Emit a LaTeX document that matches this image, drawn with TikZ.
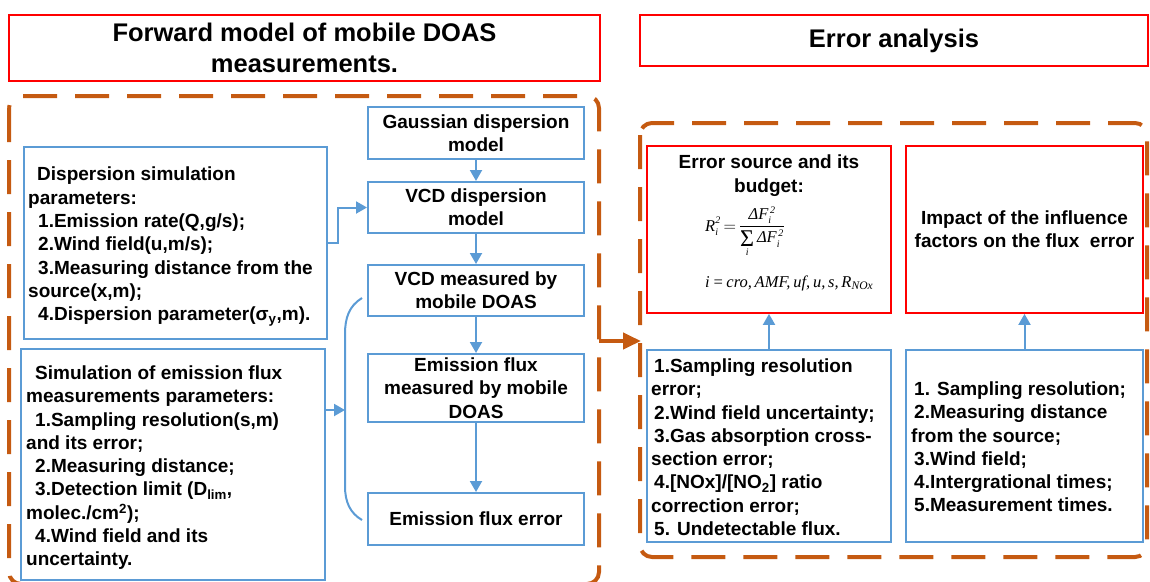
\documentclass[tikz,border=0pt]{standalone}
\usepackage[no-math]{fontspec}
\setmainfont{Liberation Sans}
\newfontfamily\tnr{Liberation Serif}
\newcommand\ital[1]{\mbox{\tnr\itshape\fontsize{16.5}{18}\selectfont #1}}
\newcommand\itsm[1]{\mbox{\tnr\itshape\fontsize{10}{10}\selectfont #1}}
\usetikzlibrary{arrows.meta}
\definecolor{myblue}{RGB}{91,155,213}
\definecolor{myorange}{RGB}{197,90,17}
\definecolor{myred}{RGB}{255,0,0}
\tikzset{
  bodyfont/.style={font=\bfseries\fontsize{19}{23.3}\selectfont},
  titlefont/.style={font=\bfseries\fontsize{25.5}{30.5}\selectfont},
  bluebox/.style={draw=myblue, line width=2pt, inner sep=0pt, align=center, bodyfont},
  redbox/.style={draw=myred, line width=1.8pt, inner sep=0pt, align=center},
  ltext/.style={anchor=north west, inner sep=0pt, align=left, bodyfont},
  orangedash/.style={draw=myorange, line width=4pt, dash pattern=on 34pt off 18pt, rounded corners=12pt},
  bluearrow/.style={draw=myblue, line width=2pt, -{Triangle[length=11pt,width=12pt]}},
  blueline/.style={draw=myblue, line width=2pt},
  orangearrow/.style={draw=myorange, line width=4pt, -{Triangle[length=18pt,width=16pt]}},
  formula/.style={anchor=base west, inner sep=0pt, font=\fontsize{16.5}{18}\selectfont}
}
\begin{document}
\begin{tikzpicture}[x=1pt,y=-1pt]
\useasboundingbox (0,0) rectangle (1150,581);
% dashed frames
\draw[orangedash] (9,96) rectangle (599,584);
\draw[orangedash] (640,123) rectangle (1147,557);
% titles
\node[redbox, titlefont, minimum width=591pt, minimum height=66pt] (title1) at (304.5,48) {Forward model of mobile DOAS\\measurements.};
\node[redbox, titlefont, minimum width=508pt, minimum height=51pt] (title2) at (894,40.5) {Error analysis};
% central chain
\node[bluebox, minimum width=216pt, minimum height=52pt] (gauss) at (476,133) {Gaussian dispersion\\model};
\node[bluebox, minimum width=216pt, minimum height=51pt] (vcdd) at (476,207.5) {VCD dispersion\\model};
\node[bluebox, minimum width=216pt, minimum height=51pt] (vcdm) at (476,290.5) {VCD measured by\\mobile DOAS};
\node[bluebox, minimum width=216pt, minimum height=68pt] (efm) at (476,388) {Emission flux\\measured by mobile\\DOAS};
\node[bluebox, minimum width=216pt, minimum height=52pt] (efe) at (476,519) {Emission flux error};
% parameter boxes
\node[bluebox, minimum width=303pt, minimum height=192pt] (params) at (175.5,243) {};
\node[ltext] (paramstxt) at (28,167) {\hspace*{9pt}Dispersion simulation\\
parameters:\\
\hspace*{10pt}1.Emission rate(Q,g/s);\\
\hspace*{10pt}2.Wind field(u,m/s);\\
\hspace*{10pt}3.Measuring distance from the\\
source(x,m);\\
\hspace*{10pt}4.Dispersion parameter(σ\textsubscript{y},m).};
\node[bluebox, minimum width=304pt, minimum height=231pt] (sim) at (173,464.5) {};
\node[ltext] (simtxt) at (26,365.5) {\hspace*{9pt}Simulation of emission flux\\
measurements parameters:\\
\hspace*{9pt}1.Sampling resolution(s,m)\\
and its error;\\
\hspace*{9pt}2.Measuring distance;\\
\hspace*{9pt}3.Detection limit (D\textsubscript{lim},\\
molec./cm\textsuperscript{2});\\
\hspace*{9pt}4.Wind field and its\\
uncertainty.};
% error analysis boxes
\node[redbox, minimum width=244pt, minimum height=167pt] (errsrc) at (769,229.5) {};
\node[bodyfont, align=center, inner sep=0pt] (errsrctxt) at (769,175.5) {Error source and its\\budget:};
\node[formula] (frm1) at (705,231) {$\displaystyle \ital{R}^{\itsm{2}}_{\itsm{i}}\,{=}\,\frac{\ital{ΔF}^{\itsm{\,2}}_{\itsm{i}}}{\mathop{\raisebox{-4pt}{\tnr\fontsize{24}{24}\selectfont Σ}}\limits_{\itsm{i}}\ital{ΔF}^{\itsm{\,2}}_{\itsm{i}}}$};
\node[formula] (frm2) at (705,287) {\tnr\itshape i\,=\,cro,\,AMF,\,uf,\,u,\,s,\,R\textsubscript{NOx}};
\node[redbox, bodyfont, minimum width=237pt, minimum height=167pt] (impact) at (1024.5,229.5) {Impact of the influence\\factors on the flux\ \ error};
\node[bluebox, minimum width=244pt, minimum height=192pt] (bluel) at (769,446) {};
\node[ltext] (blueltxt) at (651,358.5) {\hspace*{3pt}1.Sampling resolution\\
error;\\
\hspace*{3pt}2.Wind field uncertainty;\\
\hspace*{3pt}3.Gas absorption cross-\\
section error;\\
\hspace*{3pt}4.[NOx]/[NO\textsubscript{2}] ratio\\
correction error;\\
\hspace*{3pt}5. Undetectable flux.};
\node[bluebox, minimum width=237pt, minimum height=192pt] (bluer) at (1024.5,446) {};
\node[ltext] (bluertxt) at (911,381.5) {\hspace*{3pt}1. Sampling resolution;\\
\hspace*{3pt}2.Measuring distance\\
from the source;\\
\hspace*{3pt}3.Wind field;\\
\hspace*{3pt}4.Intergrational times;\\
\hspace*{3pt}5.Measurement times.};
% connectors
\draw[bluearrow] (gauss) -- (vcdd);
\draw[bluearrow] (vcdd) -- (vcdm);
\draw[bluearrow] (vcdm) -- (efm);
\draw[bluearrow] (efm) -- (efe);
\coordinate (pk) at (338,243);
\draw[bluearrow] (params.east) -- (pk) |- (vcdd.west);
\coordinate (brtop) at (362,298);
\coordinate (brbot) at (362,520);
\coordinate (brmid) at (345,410);
\draw[blueline] (brtop) .. controls (349,306) and (345,318) .. (345,334) -- (345,486) .. controls (345,502) and (350,513) .. (brbot);
\draw[bluearrow] (sim.east |- brmid) -- (brmid);
\draw[bluearrow] (bluel) -- (errsrc);
\draw[bluearrow] (bluer) -- (impact);
\coordinate (oa) at (599,341);
\coordinate (ob) at (641,341);
\draw[orangearrow] (oa) -- (ob);
\end{tikzpicture}
\end{document}
